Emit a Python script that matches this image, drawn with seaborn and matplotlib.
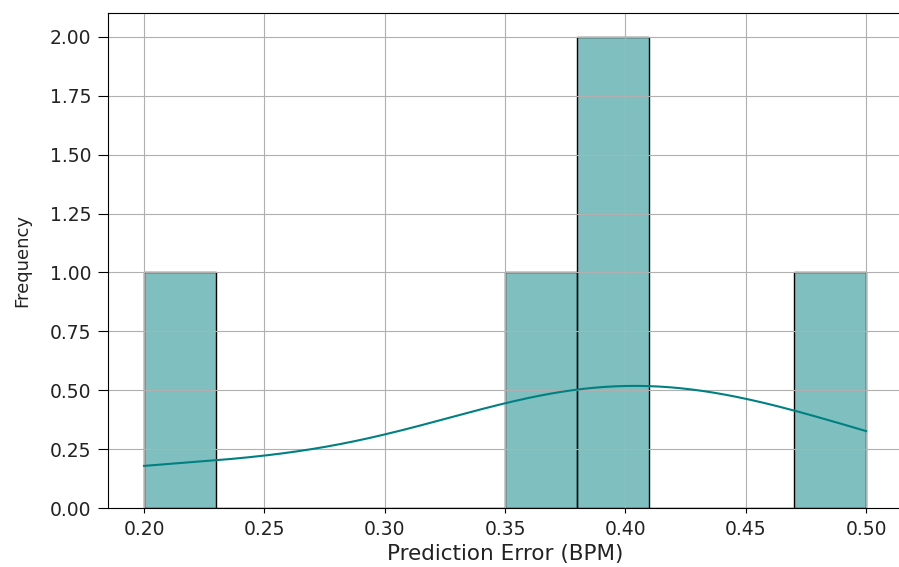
import matplotlib
matplotlib.use("Agg")
import matplotlib.pyplot as plt
import seaborn as sns
import pandas as pd

errors = [0.20, 0.37, 0.40, 0.40, 0.50]
xlabel = "Prediction Error (BPM)"
ylabel = "Frequency"

df = pd.DataFrame({"err": errors})

fig, ax = plt.subplots(figsize=(8.99, 5.67), dpi=100)
fig.subplots_adjust(left=0.1201, right=1.0035, top=0.9765, bottom=0.104)
sns.histplot(data=df, x="err", bins=10, kde=True, color="teal",
             edgecolor="black", ax=ax)
ax.set_xlabel(xlabel, fontsize=15.5, labelpad=4, color="#222222")
ax.set_ylabel(ylabel, fontsize=13, labelpad=13, color="#222222")
ax.tick_params(axis="x", labelsize=13.5, pad=5, labelcolor="#222222")
ax.tick_params(axis="y", labelsize=13.5, length=7, pad=5, labelcolor="#222222")
ax.grid(True)
fig.savefig("out.png", dpi=100)
